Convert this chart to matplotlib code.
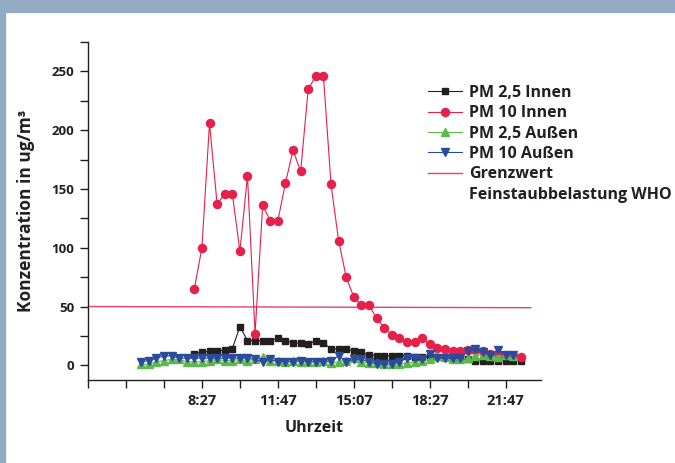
import numpy as np
import matplotlib.pyplot as plt
import matplotlib.patches as patches
from matplotlib.lines import Line2D
from matplotlib.ticker import FixedLocator, FuncFormatter

plt.rcParams['font.family'] = ['Open Sans', 'DejaVu Sans']
plt.rcParams['font.weight'] = 'bold'

# Messzeiten in Minuten ab Mitternacht, Intervall 20 min
intervall = 20
start_innen = 8 * 60 + 7
start_aussen = 5 * 60 + 47

pm10_innen = [65, 100, 206, 137, 146, 146, 97, 161, 27, 136, 123, 123, 155, 183,
              165, 235, 246, 246, 154, 106, 75, 58, 51, 51, 40, 32, 26, 23, 20, 20,
              23, 18, 15, 14, 12, 12, 13, 13, 12, 10, 10, 9, 8, 7]
pm25_innen = [10, 11, 12, 12, 13, 14, 33, 21, 21, 21, 21, 23, 21, 19, 19, 18, 21,
              19, 14, 14, 14, 12, 11, 9, 8, 8, 8, 8, 8, 7, 7, 7, 7, 7, 6, 6, 5, 4,
              4, 4, 4, 4, 4, 4]
pm10_aussen = [3, 4, 6, 8, 8, 6, 6, 6, 6, 6, 6, 6, 6, 6, 6, 5, 3, 5, 3, 3, 3, 4, 3,
               3, 3, 4, 8, 3, 5, 5, 3, 1, 1, 1, 3, 6, 6, 5, 10, 6, 6, 6, 6, 12, 14,
               11, 9, 13, 9, 9]
pm25_aussen = [1, 1, 3, 4, 5, 5, 3, 3, 3, 4, 5, 4, 4, 5, 4, 5, 7, 4, 4, 3, 4, 3, 3,
               3, 4, 2, 3, 4, 6, 3, 2, 2, 1, 1, 1, 2, 3, 4, 5, 8, 7, 5, 5, 6, 8, 9,
               8, 7, 9, 8]

# WHO-Grenzwert (Tagesmittel PM10)
grenz_x = [207, 1373]
grenz_y = [50, 49]

t_innen = start_innen + intervall * np.arange(len(pm10_innen))
t_aussen = start_aussen + intervall * np.arange(len(pm10_aussen))

fig = plt.figure(figsize=(6.75, 4.63), dpi=100)
fig.patch.set_facecolor('white')
rahmen = '#94abc4'
fig.patches.append(patches.Rectangle((0, 0), 5 / 675, 1, transform=fig.transFigure,
                                     color=rahmen, zorder=0))
fig.patches.append(patches.Rectangle((0, 1 - 12 / 463), 1, 12 / 463,
                                     transform=fig.transFigure, color=rahmen, zorder=0))

ax = fig.add_axes([88 / 675, 1 - 380 / 463, 453 / 675, 338 / 463])

ax.plot(grenz_x, grenz_y, color='#e8406a', lw=1.0, zorder=1)
ax.plot(t_innen, pm25_innen, color='#231f20', lw=0.8, marker='s', ms=5.0, zorder=2)
ax.plot(t_innen, pm10_innen, color='#e5204a', lw=0.8, marker='o', ms=5.8, zorder=3)
ax.plot(t_aussen, pm25_aussen, color='#5cb84a', lw=0.8, marker='^', ms=5.8, zorder=4)
ax.plot(t_aussen, pm10_aussen, color='#2b4c9b', lw=0.8, marker='v', ms=5.8, zorder=5)

ax.set_xlim(207, 1400)
ax.set_ylim(-12.5, 275)

for s in ['top', 'right']:
    ax.spines[s].set_visible(False)
for s in ['left', 'bottom']:
    ax.spines[s].set_color('#231f20')
    ax.spines[s].set_linewidth(1.0)

ax.set_yticks(np.arange(0, 251, 50))
ax.yaxis.set_minor_locator(FixedLocator(np.arange(25, 276, 50)))

beschriftet = [507, 707, 907, 1107, 1307]
ax.xaxis.set_major_locator(FixedLocator(np.arange(207, 1408, 100)))


def zeit(x, pos):
    x = int(round(x))
    if x not in beschriftet:
        return ''
    return '%d:%02d' % (x // 60, x % 60)


ax.xaxis.set_major_formatter(FuncFormatter(zeit))
ax.tick_params(axis='y', which='both', direction='out', length=6, width=1,
               color='#231f20', labelsize=9.5, pad=4, labelcolor='#231f20')
ax.tick_params(axis='x', which='both', direction='out', length=6, width=1,
               color='#231f20', labelsize=10.5, pad=4, labelcolor='#231f20')

ax.set_xlabel('Uhrzeit', fontsize=11.5, fontweight='bold', color='#231f20', labelpad=9)
ax.set_ylabel('Konzentration in ug/m³', fontsize=12.5, fontweight='bold',
              color='#231f20', labelpad=12)

handles = [
    Line2D([], [], color='#231f20', lw=0.8, marker='s', ms=5.0),
    Line2D([], [], color='#e5204a', lw=0.8, marker='o', ms=5.8),
    Line2D([], [], color='#5cb84a', lw=0.8, marker='^', ms=5.8),
    Line2D([], [], color='#2b4c9b', lw=0.8, marker='v', ms=5.8),
    Line2D([], [], color='#e8406a', lw=1.0),
    Line2D([], [], color='none'),
]
labels = ['PM 2,5 Innen', 'PM 10 Innen', 'PM 2,5 Außen', 'PM 10 Außen',
          'Grenzwert', 'Feinstaubbelastung WHO']
leg = fig.legend(handles, labels, loc='upper left',
                 bbox_to_anchor=(428 / 675, 1 - 85 / 463), bbox_transform=fig.transFigure,
                 frameon=False, borderpad=0, borderaxespad=0, handlelength=2.15,
                 handletextpad=0.4, labelspacing=0.27,
                 prop={'size': 11.5, 'weight': 'bold'})
for t in leg.get_texts():
    t.set_color('#231f20')

fig.savefig('out.png', dpi=100)
